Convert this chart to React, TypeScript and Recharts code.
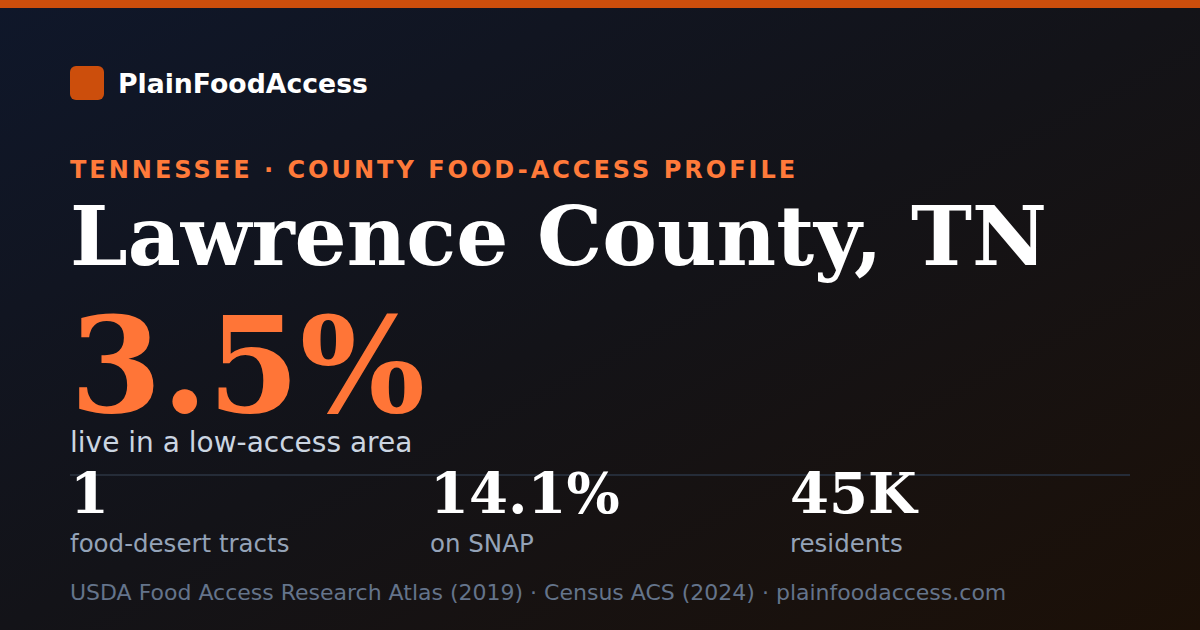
import React from "react";
import { Surface, Rectangle, Text } from "recharts";

const W = 1200;
const H = 630;

const brand = ["PlainFoodAccess"];
const kicker = ["TENNESSEE · COUNTY FOOD-ACCESS PROFILE"];
const title = ["Lawrence County, TN"];
const headline = ["3.5%"];
const headlineLabel = ["live in a low-access area"];
const statValues = ["1", "14.1%", "45K"];
const statLabels = ["food-desert tracts", "on SNAP", "residents"];
const footer = ["USDA Food Access Research Atlas (2019) · Census ACS (2024) · plainfoodaccess.com"];

const SANS = "'DejaVu Sans', sans-serif";
const SERIF = "'DejaVu Serif', serif";

export default function App() {
  return (
    <div style={{ position: "absolute", left: 0, top: 0, width: W, height: H }}>
      <style>{`body{margin:0}`}</style>
      <Surface width={W} height={H}>
        <defs>
          <linearGradient id="bg" x1="0" y1="0" x2="1" y2="1">
            <stop offset="0%" stopColor="#0f172a" />
            <stop offset="50%" stopColor="#131318" />
            <stop offset="100%" stopColor="#1c1007" />
          </linearGradient>
        </defs>
        <Rectangle x={0} y={0} width={W} height={H} fill="url(#bg)" />
        <Rectangle x={0} y={0} width={W} height={8} fill="#cc4e0c" />
        <Rectangle x={70} y={66} width={34} height={34} radius={6} fill="#cc4e0c" />
        <Text x={118} y={93} verticalAnchor="end" fill="#ffffff" fontFamily={SANS} fontWeight={700} fontSize={26.7}>
          {brand[0]}
        </Text>
        <Text x={70} y={178} verticalAnchor="end" fill="#ff7a3a" fontFamily={SANS} fontWeight={700} fontSize={24} style={{ letterSpacing: "3px" }}>
          {kicker[0]}
        </Text>
        <Text x={70} y={265} verticalAnchor="end" fill="#ffffff" fontFamily={SERIF} fontWeight={700} fontSize={82}>
          {title[0]}
        </Text>
        <Text x={70} y={412} verticalAnchor="end" fill="#ff7537" fontFamily={SERIF} fontWeight={700} fontSize={132}>
          {headline[0]}
        </Text>
        <Text x={70} y={452} verticalAnchor="end" fill="#cbd5e1" fontFamily={SANS} fontSize={28}>
          {headlineLabel[0]}
        </Text>
        <Rectangle x={70} y={474} width={1060} height={2} fill="#252c38" />
        {statValues.map((v, i) => (
          <Text key={"v" + i} x={70 + i * 360} y={513} verticalAnchor="end" fill="#ffffff" fontFamily={SERIF} fontWeight={700} fontSize={56}>
            {v}
          </Text>
        ))}
        {statLabels.map((l, i) => (
          <Text key={"l" + i} x={70 + i * 360} y={552} verticalAnchor="end" fill="#94a3b8" fontFamily={SANS} fontSize={24.5}>
            {l}
          </Text>
        ))}
        <Text x={70} y={600} verticalAnchor="end" fill="#64748b" fontFamily={SANS} fontSize={22}>
          {footer[0]}
        </Text>
      </Surface>
    </div>
  );
}
